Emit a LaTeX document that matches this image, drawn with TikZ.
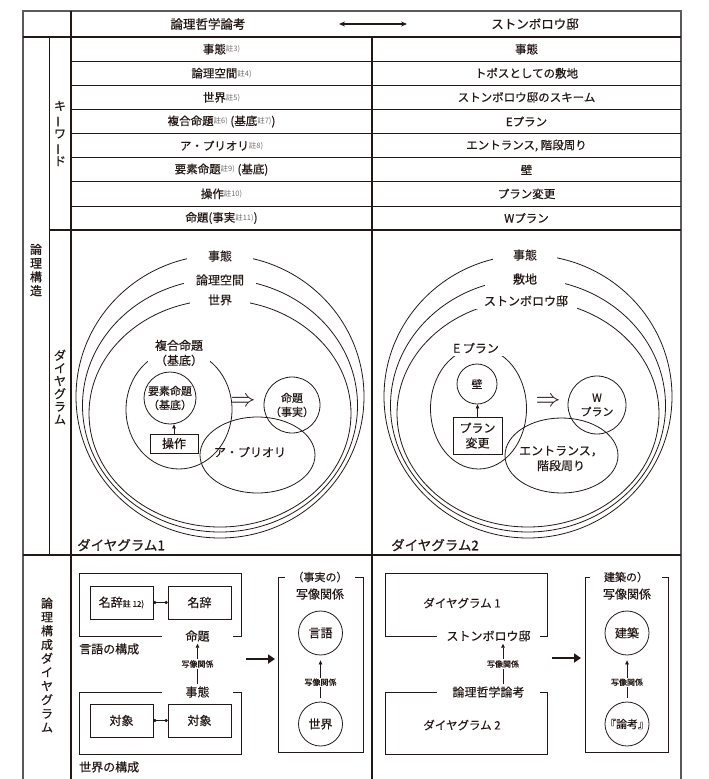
\documentclass[tikz,border=0pt]{standalone}
\usepackage{fontspec}
\setmainfont{Noto Sans CJK JP}
\newfontfamily\heavy{Noto Sans CJK JP}[FakeBold=0.6]
\newfontfamily\semi{Noto Sans CJK JP}[FakeBold=0.3]
\usetikzlibrary{arrows.meta,calc}
\definecolor{ink}{HTML}{231815}
\definecolor{note}{HTML}{6E6E6E}
\definecolor{edge}{HTML}{5A5A5A}
\newcommand{\chu}[1]{\raisebox{1.5pt}{\textcolor{note}{\normalfont\fontsize{7.5}{8}\selectfont 註#1)}}}
\newcommand{\vbar}{\rotatebox[origin=c]{90}{ー}}
\begin{document}
\begin{tikzpicture}[x=1pt,y=-1pt,
  lbl/.style={font=\semi\fontsize{12}{15}\selectfont, text=ink, inner sep=1pt},
  lbls/.style={font=\semi\fontsize{11}{14}\selectfont, text=ink, inner sep=0pt, align=center},
  gaplbl/.style={lbl, fill=white, inner sep=2pt, minimum height=16pt},
  openlbl/.style={lbl, inner sep=0pt, minimum height=15pt},
  tiny/.style={font=\semi\fontsize{8}{9}\selectfont, text=ink, fill=white, inner sep=1pt},
  ln/.style={draw=ink, line width=0.8pt},
  arr/.style={draw=ink, line width=0.8pt, -{Triangle[length=4pt,width=3.6pt]}},
  bigarr/.style={draw=ink, line width=2.4pt, -{Triangle[length=7pt,width=9pt]}},
  dotline/.style={draw=ink, line width=0.9pt, {Circle[length=3pt]}-{Circle[length=3pt]}},
  boxn/.style={draw=ink, line width=0.8pt, minimum width=63pt, minimum height=33pt, lbl},
  kw/.style={font=\heavy\fontsize{11.5}{13}\selectfont, text=ink, inner sep=1pt},
  vlbl/.style={font=\heavy\fontsize{12}{13.8}\selectfont, text=ink, align=center, inner sep=0pt},
  dglbl/.style={font=\heavy\fontsize{13.5}{15}\selectfont, text=ink, inner sep=0pt, anchor=west},
  impl/.style={text=ink, font=\fontsize{24}{24}\selectfont, inner sep=0pt},
  tline/.style={draw=ink, line width=1.4pt},
  rline/.style={draw=ink, line width=0.8pt},
  oline/.style={draw=edge, line width=1.2pt}]
\useasboundingbox (0,0) rectangle (709,779);

% ---------- table lines ----------
\draw[oline] (23,779) -- (23,11) -- (681,11) -- (681,779);
\draw[tline] (71,11) -- (71,779);
\draw[tline] (23,37) -- (681,37);
\draw[tline] (372,37) -- (372,779);
\draw[rline] (49,37) -- (49,555);
\foreach \y in {61.1,85.3,109.4,133.5,157.6,181.8,205.9}
  \draw[rline] (71,\y) -- (681,\y);
\draw[draw=ink, line width=1.1pt] (49,230) -- (681,230);
\draw[tline] (23,555) -- (681,555);

% ---------- header ----------
\node[kw, font=\heavy\fontsize{12.5}{14}\selectfont] (h1) at (208,24) {論理哲学論考};
\node[kw, font=\heavy\fontsize{12.5}{14}\selectfont] (h2) at (535,24) {ストンボロウ邸};
\coordinate (ha) at (339,24);
\coordinate (hb) at (407,24);
\draw[draw=ink, line width=1.2pt, {Stealth[length=6pt,width=5pt]}-{Stealth[length=6pt,width=5pt]}] (ha) -- (hb);

% ---------- keywords ----------
\node[kw] (k1l) at (221.5,49.1) {事態\chu{3}};
\node[kw] (k2l) at (221.5,73.2) {論理空間\chu{4}};
\node[kw] (k3l) at (221.5,97.3) {世界\chu{5}};
\node[kw] (k4l) at (221.5,121.5) {複合命題\chu{6} (基底\chu{7})};
\node[kw] (k5l) at (221.5,145.6) {ア・プリオリ\chu{8}};
\node[kw] (k6l) at (221.5,169.7) {要素命題\chu{9} (基底)};
\node[kw] (k7l) at (221.5,193.8) {操作\chu{10}};
\node[kw] (k8l) at (221.5,218.0) {命題(事実\chu{11})};
\node[kw] (k1r) at (526.5,49.1) {事態};
\node[kw] (k2r) at (526.5,73.2) {トポスとしての敷地};
\node[kw] (k3r) at (526.5,97.3) {ストンボロウ邸のスキーム};
\node[kw] (k4r) at (526.5,121.5) {Eプラン};
\node[kw] (k5r) at (526.5,145.6) {エントランス, 階段周り};
\node[kw] (k6r) at (526.5,169.7) {壁};
\node[kw] (k7r) at (526.5,193.8) {プラン変更};
\node[kw] (k8r) at (526.5,218.0) {Wプラン};

% ---------- vertical labels ----------
\node[vlbl] (v1) at (36,270) {論\\理\\構\\造};
\node[vlbl] (v2) at (60,133.5) {キ\\\vbar\\ワ\\\vbar\\ド};
\node[vlbl, font=\heavy\fontsize{12}{12.8}\selectfont] (v3) at (60,387) {ダ\\イ\\ヤ\\グ\\ラ\\ム};
\node[vlbl] (v4) at (47,665) {論\\理\\構\\成\\ダ\\イ\\ヤ\\グ\\ラ\\ム};

% ---------- diagram 1 ----------
\draw[ln] (220,396.5) ellipse [x radius=144pt, y radius=141.5pt];
\draw[ln] (220,405.5) ellipse [x radius=137.5pt, y radius=126.5pt];
\draw[ln] (220,413.5) ellipse [x radius=131pt, y radius=113.5pt];
\node[gaplbl, minimum width=66pt] (d1a) at (220,256) {事態};
\node[gaplbl, minimum width=72pt] (d1b) at (220,280) {論理空間};
\node[gaplbl, minimum width=60pt] (d1c) at (220,300) {世界};
\draw[ln] (179,409.5) ellipse [x radius=53pt, y radius=59.5pt];
\node[gaplbl, align=center, minimum width=62pt] (d1f) at (179,353) {複合命題\\（基底）};
\draw[ln] (257.5,455) ellipse [x radius=57.5pt, y radius=38pt];
\node[lbl] (d1ap) at (250,452) {ア・プリオリ};
\node[ln, circle, minimum size=52pt, inner sep=0pt] (d1e) at (170,398) {};
\node[lbls] (d1et) at (d1e) {要素命題\\（基底）};
\node[ln, circle, minimum size=56pt, inner sep=0pt] (d1p) at (292,405) {};
\node[lbls] (d1pt) at (d1p) {命題\\（事実）};
\node[ln, lbl, minimum width=48pt, minimum height=19pt, inner sep=0pt] (d1op) at (174,443.5) {操作};
\draw[arr] (d1op.north) -- (d1op.north |- d1e.south);
\node[impl] (d1r) at (243,402) {$\Rightarrow$};
\node[dglbl] (d1n) at (77,545) {ダイヤグラム1};

% ---------- diagram 2 ----------
\draw[ln] (528,396.5) ellipse [x radius=144pt, y radius=141.5pt];
\draw[ln] (528,405.5) ellipse [x radius=137.5pt, y radius=126.5pt];
\draw[ln] (528,413.5) ellipse [x radius=131pt, y radius=113.5pt];
\node[gaplbl, minimum width=64pt] (d2a) at (525,255) {事態};
\node[gaplbl, minimum width=80pt] (d2b) at (525,279) {敷地};
\node[gaplbl, minimum width=102pt] (d2c) at (526,301) {ストンボロウ邸};
\draw[ln] (478.5,408.5) ellipse [x radius=48pt, y radius=60.5pt];
\node[gaplbl, minimum width=58pt] (d2f) at (476,348) {E プラン};
\draw[ln] (561.5,455.5) ellipse [x radius=56.5pt, y radius=37.5pt];
\node[lbl, align=center] (d2en) at (561,458.5) {エントランス，\\階段周り};
\node[ln, circle, minimum size=40pt, inner sep=0pt] (d2w) at (477,384) {};
\node[lbls] (d2wt) at (d2w) {壁};
\node[ln, circle, minimum size=58pt, inner sep=0pt] (d2p) at (597,405) {};
\node[lbls] (d2pt) at (d2p) {W\\プラン};
\node[ln, lbl, align=center, minimum width=49pt, minimum height=37pt, inner sep=0pt] (d2op) at (477.5,435.5) {プラン\\変更};
\draw[arr] (d2op.north) -- (d2op.north |- d2w.south);
\node[impl] (d2r) at (548,402) {$\Rightarrow$};
\node[dglbl] (d2n) at (391,545) {ダイヤグラム2};

% ---------- bottom left ----------
\node[boxn] (n1) at (121.5,602.5) {名辞{\fontsize{8}{9}\selectfont 註 12)}};
\node[boxn] (n2) at (199.5,602.5) {名辞};
\draw[dotline] (n1.east) -- (n2.west);
\node[openlbl, minimum width=71pt] (mt) at (197.5,636) {命題};
\draw[ln] (mt.west) -- (79,636) -- (79,573) -- (241,573) -- (241,636) -- (mt.east);
\node[lbl, anchor=west] (gl) at (78,649) {言語の構成};
\node[boxn] (o1) at (121.5,720.5) {対象};
\node[boxn] (o2) at (199.5,720.5) {対象};
\draw[dotline] (o1.east) -- (o2.west);
\node[openlbl, minimum width=71pt] (jt) at (197.5,692) {事態};
\draw[ln] (jt.west) -- (79,692) -- (79,754) -- (241,754) -- (241,692) -- (jt.east);
\node[lbl, anchor=west] (sl) at (78,767) {世界の構成};
\draw[arr] (jt.north) -- (mt.south) node[tiny, midway] (m1) {写像関係};
\coordinate (b1s) at (246,659);
\coordinate (b1e) at (275,659);
\draw[bigarr] (b1s) -- (b1e);
\node[openlbl, font=\semi\fontsize{11}{13}\selectfont, minimum width=70pt] (mb1) at (320,577) {（事実の）};
\draw[ln] (mb1.west) -- (278,577) -- (278,752) -- (363,752) -- (363,577) -- (mb1.east);
\node[lbl] (mb1t) at (320,594) {写像関係};
\node[ln, circle, minimum size=44pt, inner sep=0pt] (c1) at (320.5,633) {};
\node[lbls, font=\semi\fontsize{12}{14}\selectfont] (c1t) at (c1) {言語};
\node[ln, circle, minimum size=44pt, inner sep=0pt] (c2) at (320.5,724) {};
\node[lbls, font=\semi\fontsize{12}{14}\selectfont] (c2t) at (c2) {世界};
\draw[arr, shorten >=5pt, shorten <=4pt] (c2.north) -- (c1.south) node[tiny, pos=0.42] (m2) {写像関係};

% ---------- bottom right ----------
\node[openlbl, minimum width=103pt] (st) at (488.5,636) {ストンボロウ邸};
\draw[ln] (st.west) -- (385,636) -- (385,573) -- (547,573) -- (547,636) -- (st.east);
\node[lbl, font=\semi\fontsize{11.5}{14}\selectfont] (dg1) at (462,603) {ダイヤグラム 1};
\node[openlbl, minimum width=103pt] (rt) at (488.5,692) {論理哲学論考};
\draw[ln] (rt.west) -- (385,692) -- (385,754) -- (547,754) -- (547,692) -- (rt.east);
\node[lbl, font=\semi\fontsize{11.5}{14}\selectfont] (dg2) at (462,725) {ダイヤグラム 2};
\draw[arr] ([xshift=14.5pt]rt.north) -- ([xshift=14.5pt]st.south) node[tiny, midway] (m3) {写像関係};
\coordinate (b2s) at (552,658);
\coordinate (b2e) at (581,658);
\draw[bigarr] (b2s) -- (b2e);
\node[openlbl, font=\semi\fontsize{11}{13}\selectfont, minimum width=72pt] (mb2) at (626,577) {建築の）};
\draw[ln] (mb2.west) -- (585,577) -- (585,752) -- (668,752) -- (668,577) -- (mb2.east);
\node[lbl] (mb2t) at (627,594) {写像関係};
\node[ln, circle, minimum size=44pt, inner sep=0pt] (c3) at (627,633) {};
\node[lbls, font=\semi\fontsize{12}{14}\selectfont] (c3t) at (c3) {建築};
\node[ln, circle, minimum size=44pt, inner sep=0pt] (c4) at (627,724) {};
\node[lbls, font=\semi\fontsize{11}{14}\selectfont] (c4t) at (c4) {『論考』};
\draw[arr, shorten >=5pt, shorten <=4pt] (c4.north) -- (c3.south) node[tiny, pos=0.42] (m4) {写像関係};
\end{tikzpicture}
\end{document}
